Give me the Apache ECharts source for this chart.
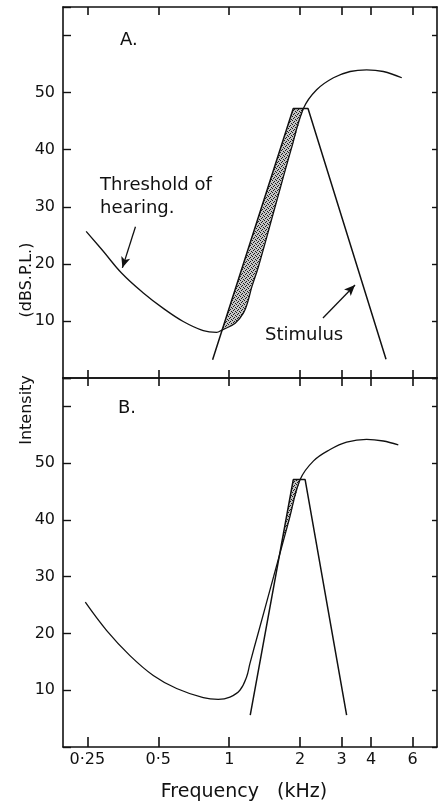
<!DOCTYPE html>
<html>
<head>
<meta charset="utf-8">
<script src="https://cdn.jsdelivr.net/npm/echarts@6/dist/echarts.min.js"></script>
<style>
  html, body { margin: 0; padding: 0; background: #fff; }
  #chart { width: 441px; height: 801px; }
</style>
</head>
<body>
<div id="chart"></div>
<script>
// axis ticks
var freqTicks = [0.25, 0.5, 1, 2, 3, 4, 6];
var freqTickLabels = ['0·25', '0·5', '1', '2', '3', '4', '6'];
var dbTicks = [10, 20, 30, 40, 50];

// panel A  [kHz, dB SPL]
var thresholdA = [[0.247, 25.7], [0.292, 22.2], [0.349, 18.4], [0.432, 14.9], [0.525, 12.2],
  [0.638, 9.9], [0.776, 8.3], [0.884, 8.0], [0.931, 8.4], [1.06, 9.6], [1.15, 11.4],
  [1.2, 13.4], [1.248, 16.0], [1.33, 19.5], [1.566, 30], [1.83, 40], [2.07, 47.3], [2.35, 50.5],
  [2.77, 52.6], [3.26, 53.7], [3.83, 54.0], [4.51, 53.7], [5.4, 52.6]];
var stimulusA = [[0.85, 3.2], [1.87, 47.2], [2.16, 47.2], [4.63, 3.3]];
var shadeA = [[0.931, 8.4], [1.87, 47.2], [2.07, 47.2], [1.83, 40], [1.566, 30], [1.33, 19.5],
  [1.248, 16.0], [1.2, 13.4], [1.15, 11.4], [1.06, 9.6]];
var thresholdArrow = [[0.40, 26.5], [0.352, 19.3]];
var stimulusArrow = [[2.5, 10.5], [3.42, 16.3]];

// panel B
var thresholdB = [[0.245, 25.5], [0.302, 20.5], [0.379, 16.1], [0.476, 12.6], [0.598, 10.3],
  [0.776, 8.7], [0.898, 8.4], [1.007, 8.8], [1.11, 10.0], [1.184, 12.3], [1.224, 14.7],
  [1.326, 20], [1.543, 30], [1.795, 40], [2.0, 47.1], [2.28, 50.4], [2.68, 52.4],
  [3.15, 53.7], [3.83, 54.2], [4.51, 53.9], [5.22, 53.2]];
var stimulusB = [[1.228, 5.6], [1.87, 47.1], [2.10, 47.1], [3.15, 5.6]];
var shadeB = [[1.633, 33.8], [1.87, 47.1], [2.0, 47.1], [1.795, 40]];

var INK = '#111';
var FONT = 'DejaVu Sans';

function stipple() {
  var c = document.createElement('canvas');
  c.width = 4; c.height = 4;
  var ctx = c.getContext('2d');
  ctx.fillStyle = '#c4c4c4';
  ctx.fillRect(0, 0, 4, 4);
  ctx.fillStyle = '#1a1a1a';
  [[0, 0], [2, 1], [1, 2], [3, 3]].forEach(function (p) {
    ctx.fillRect(p[0], p[1], 1, 1);
  });
  return c;
}
var dots = stipple();

function freqAxis(grid, pos, tickLen, showLabel) {
  return {
    type: 'log', logBase: 2, gridIndex: grid, position: pos,
    min: 0.197, max: 7.62,
    axisLine: { show: true, onZero: false, lineStyle: { color: INK, width: 1.6 } },
    axisTick: { show: true, inside: true, length: tickLen, customValues: freqTicks,
      lineStyle: { color: INK, width: 1.6 } },
    axisLabel: {
      show: showLabel, customValues: freqTicks, margin: 5,
      color: INK, fontFamily: FONT, fontSize: 16,
      formatter: function (v) {
        for (var i = 0; i < freqTicks.length; i++) {
          if (Math.abs(freqTicks[i] - v) < 1e-6) return freqTickLabels[i];
        }
        return '';
      }
    },
    splitLine: { show: false },
    minorTick: { show: false }
  };
}

function dbAxis(grid, pos, tickLen, showLabel) {
  return {
    type: 'value', gridIndex: grid, position: pos,
    min: 0, max: 65, interval: 10,
    axisLine: { show: true, onZero: false, lineStyle: { color: INK, width: 1.6 } },
    axisTick: { show: true, inside: true, length: tickLen, lineStyle: { color: INK, width: 1.4 } },
    axisLabel: {
      show: showLabel, margin: 8, color: INK, fontFamily: FONT, fontSize: 16,
      formatter: function (v) { return dbTicks.indexOf(v) >= 0 ? String(v) : ''; }
    },
    splitLine: { show: false }
  };
}

function curve(data, ax, smooth, width) {
  return {
    type: 'line', xAxisIndex: ax, yAxisIndex: ax, data: data,
    smooth: smooth, symbol: 'none',
    lineStyle: { color: INK, width: width }
  };
}

function shade(data, ax) {
  return {
    type: 'custom', xAxisIndex: ax, yAxisIndex: ax, data: data,
    encode: { x: 0, y: 1 },
    renderItem: function (params, api) {
      if (params.dataIndex !== 0) return;
      var pts = data.map(function (p) { return api.coord(p); });
      return {
        type: 'polygon',
        shape: { points: pts },
        style: { fill: { image: dots, repeat: 'repeat' }, stroke: 'none' }
      };
    },
    z: 1
  };
}

function arrow(pair) {
  return {
    silent: true, animation: false,
    symbol: ['none', 'arrow'], symbolSize: [7, 11],
    label: { show: false },
    lineStyle: { color: INK, width: 1.3, type: 'solid' },
    data: [[{ coord: pair[0] }, { coord: pair[1] }]]
  };
}

var threshA = curve(thresholdA, 0, 0.4, 1.3);
threshA.markLine = arrow(thresholdArrow);
var stimA = curve(stimulusA, 0, false, 1.5);
stimA.markLine = arrow(stimulusArrow);

var chart = echarts.init(document.getElementById('chart'));
chart.setOption({
  animation: false,
  backgroundColor: '#fff',
  grid: [
    { left: 63, top: 7, width: 374, height: 371, outerBoundsMode: 'none' },
    { left: 63, top: 378, width: 374, height: 369, outerBoundsMode: 'none' }
  ],
  xAxis: [
    freqAxis(0, 'bottom', 8, false),
    freqAxis(1, 'bottom', 10, true),
    freqAxis(0, 'top', 8, false),
    freqAxis(1, 'top', 8, false)
  ],
  yAxis: [
    dbAxis(0, 'left', 8, true),
    dbAxis(1, 'left', 8, true),
    dbAxis(0, 'right', 5, false),
    dbAxis(1, 'right', 5, false)
  ],
  series: [
    shade(shadeA, 0),
    threshA,
    stimA,
    shade(shadeB, 1),
    curve(thresholdB, 1, 0.4, 1.3),
    curve(stimulusB, 1, false, 1.5)
  ],
  graphic: [
    { type: 'text', left: 120, top: 31, style: { text: 'A.', font: '18px "DejaVu Sans"', fill: INK } },
    { type: 'text', left: 118, top: 399, style: { text: 'B.', font: '18px "DejaVu Sans"', fill: INK } },
    { type: 'text', left: 100, top: 176, style: { text: 'Threshold of', font: '18px "DejaVu Sans"', fill: INK } },
    { type: 'text', left: 100, top: 199, style: { text: 'hearing.', font: '18px "DejaVu Sans"', fill: INK } },
    { type: 'text', left: 265, top: 326, style: { text: 'Stimulus', font: '18px "DejaVu Sans"', fill: INK } },
    { type: 'text', x: 244, y: 792, style: { text: 'Frequency   (kHz)', font: '19px "DejaVu Sans"', fill: INK,
      align: 'center', verticalAlign: 'middle' } },
    { type: 'text', x: 27, y: 410, rotation: Math.PI / 2, style: { text: 'Intensity', font: '16px "DejaVu Sans"',
      fill: INK, align: 'center', verticalAlign: 'middle' } },
    { type: 'text', x: 27, y: 280, rotation: Math.PI / 2, style: { text: '(dBS.P.L.)', font: '16px "DejaVu Sans"',
      fill: INK, align: 'center', verticalAlign: 'middle' } }
  ]
});
</script>
</body>
</html>
